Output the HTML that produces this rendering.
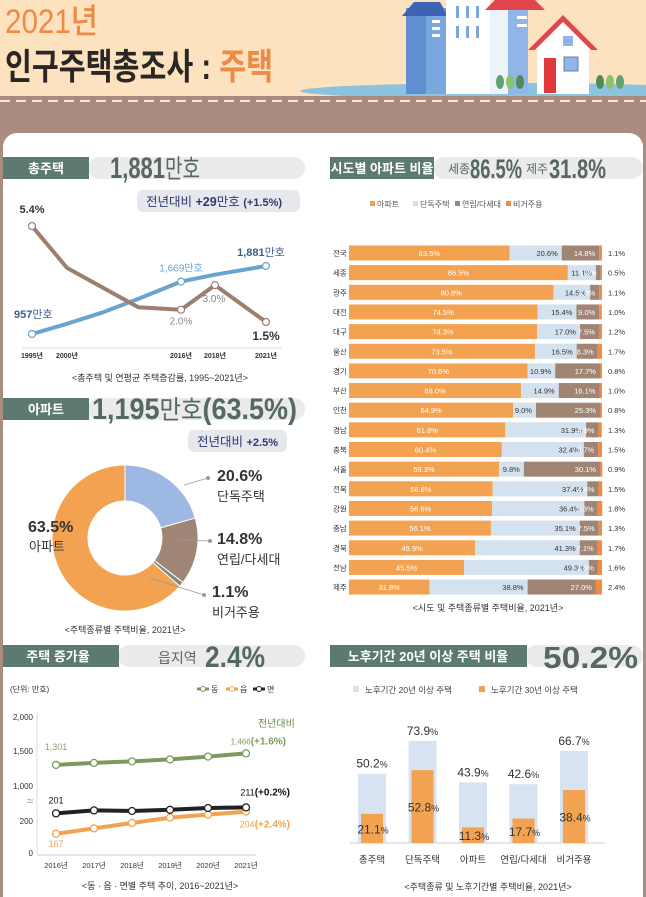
<!DOCTYPE html>
<html><head><meta charset="utf-8">
<style>
html,body{margin:0;padding:0;background:#a98c7e;}
svg{display:block;font-family:"Liberation Sans","Noto Sans CJK KR",sans-serif;}
.n{font-family:"Liberation Sans","Noto Sans CJK KR",sans-serif;}
</style></head>
<body>
<svg id="page" width="646" height="897" viewBox="0 0 646 897" xmlns="http://www.w3.org/2000/svg">
  <rect x="0" y="0" width="646" height="96" fill="#fde2bf"/>
  <text x="5" y="33" font-size="34" fill="#ee8a45" textLength="93" lengthAdjust="spacingAndGlyphs" font-weight="500">2021년</text>
  <text x="5" y="79" font-size="36" fill="#2a2624" font-weight="bold" textLength="268" lengthAdjust="spacingAndGlyphs">인구주택총조사 : <tspan fill="#ee8a45">주택</tspan></text>
  <g>
    <ellipse cx="510" cy="91" rx="210" ry="8" fill="#8cc4df"/>
    <rect x="406" y="8" width="40" height="86" fill="#7ba7df"/>
    <rect x="406" y="8" width="20" height="86" fill="#5f8fd0"/>
    <polygon points="402,16 414,2 440,2 448,16" fill="#3f63b3"/>
    <rect x="446" y="0" width="44" height="94" fill="#ffffff"/>
    <rect x="456" y="6" width="3" height="12" fill="#7ba7df"/><rect x="466" y="6" width="3" height="12" fill="#7ba7df"/><rect x="476" y="6" width="3" height="12" fill="#7ba7df"/>
    <rect x="456" y="26" width="3" height="12" fill="#7ba7df"/><rect x="466" y="26" width="3" height="12" fill="#7ba7df"/><rect x="476" y="26" width="3" height="12" fill="#7ba7df"/>
    <rect x="490" y="8" width="38" height="86" fill="#eef3fb"/>
    <rect x="508" y="8" width="20" height="86" fill="#8fb6e6"/>
    <polygon points="485,10 495,0 535,0 545,10" fill="#e0464b"/>
    <rect x="432" y="20" width="8" height="3" fill="#fff"/><rect x="432" y="27" width="8" height="3" fill="#fff"/><rect x="432" y="34" width="8" height="3" fill="#fff"/>
    <rect x="517" y="16" width="10" height="3" fill="#fff"/><rect x="517" y="24" width="10" height="3" fill="#fff"/>
    <rect x="537" y="45" width="52" height="49" fill="#ffffff"/>
    <polygon points="528,50 563,15 598,50 591,50 563,22 535,50" fill="#e0464b"/>
    <polygon points="535,50 563,22 591,50" fill="#ffffff"/>
    <rect x="544" y="58" width="12" height="35" fill="#e0393c"/>
    <rect x="563" y="36" width="10" height="10" fill="#8fb6e6"/>
    <rect x="564" y="57" width="14" height="14" fill="#8fb6e6" stroke="#6b7f95" stroke-width="1"/>
    <ellipse cx="500" cy="82" rx="4" ry="7" fill="#5fa46f"/><ellipse cx="510" cy="82" rx="4" ry="7" fill="#8fc06a"/><ellipse cx="520" cy="82" rx="4" ry="7" fill="#4e8a5e"/>
    <ellipse cx="600" cy="82" rx="4" ry="7" fill="#4e8a5e"/><ellipse cx="610" cy="82" rx="4" ry="7" fill="#8fc06a"/><ellipse cx="620" cy="82" rx="4" ry="7" fill="#5fa46f"/>
  </g>
  <rect x="0" y="96" width="646" height="40" fill="#a98c7e"/>
  <line x1="0" y1="101" x2="646" y2="101" stroke="#f3e6dc" stroke-width="2" stroke-dasharray="10,6"/>
  <rect x="3" y="133" width="640" height="780" rx="14" fill="#ffffff"/>

  <g>
    <rect x="88" y="157" width="217" height="22" rx="11" fill="#ebebeb"/>
    <rect x="3" y="157" width="86" height="22" fill="#5c7a6f"/>
    <text x="46" y="173" font-size="13" font-weight="bold" fill="#fff" text-anchor="middle">총주택</text>
    <text x="110" y="178" font-size="30" font-weight="bold" fill="#56695f" textLength="90" lengthAdjust="spacingAndGlyphs">1,881<tspan font-weight="normal" font-size="26">만호</tspan></text>
  </g>
  <g>
    <rect x="137" y="190" width="163" height="22" rx="6" fill="#e6e8ee"/>
    <text x="146" y="206" font-size="12.5" fill="#2e3a70">전년대비 <tspan font-weight="bold">+29</tspan>만호  <tspan font-weight="bold" font-size="11">(+1.5%)</tspan></text>
  </g>
  <g id="chart1"></g>
  <text x="160" y="381" font-size="9" fill="#333" text-anchor="middle">&lt;총주택 및 연평균 주택증감률, 1995~2021년&gt;</text>

  <g>
    <rect x="88" y="398" width="217" height="22" rx="11" fill="#ebebeb"/>
    <rect x="3" y="398" width="86" height="22" fill="#5c7a6f"/>
    <text x="46" y="414" font-size="13" font-weight="bold" fill="#fff" text-anchor="middle">아파트</text>
    <text x="92" y="419" font-size="30" font-weight="bold" fill="#56695f" textLength="205" lengthAdjust="spacingAndGlyphs">1,195<tspan font-weight="normal" font-size="26">만호</tspan>(63.5%)</text>
  </g>
  <g>
    <rect x="188" y="430" width="99" height="22" rx="6" fill="#e6e8ee"/>
    <text x="197" y="446" font-size="12.5" fill="#2e3a70">전년대비 <tspan font-weight="bold" font-size="11">+2.5%</tspan></text>
  </g>
  <g id="donut"></g>
  <text x="125" y="633" font-size="9" fill="#333" text-anchor="middle">&lt;주택종류별 주택비율, 2021년&gt;</text>

  <g>
    <rect x="118" y="645" width="187" height="22" rx="11" fill="#ebebeb"/>
    <rect x="3" y="645" width="116" height="22" fill="#5c7a6f"/>
    <text x="58" y="661" font-size="13" font-weight="bold" fill="#fff" text-anchor="middle">주택 증가율</text>
    <text x="158" y="663" font-size="14" fill="#56695f">읍지역</text>
    <text x="205" y="667" font-size="30" font-weight="bold" fill="#56695f" textLength="60" lengthAdjust="spacingAndGlyphs">2.4%</text>
  </g>
  <g id="chart3"></g>
  <text x="160" y="889" font-size="9" fill="#333" text-anchor="middle">&lt;동 · 읍 · 면별 주택 추이, 2016~2021년&gt;</text>

  <g>
    <rect x="433" y="157" width="210" height="22" rx="11" fill="#ebebeb"/>
    <rect x="330" y="157" width="104" height="22" fill="#5c7a6f"/>
    <text x="382" y="173" font-size="13" font-weight="bold" fill="#fff" text-anchor="middle">시도별 아파트 비율</text>
    <text x="448" y="173" font-size="12" fill="#56695f">세종</text>
    <text x="470" y="178" font-size="27" font-weight="bold" fill="#56695f" textLength="52" lengthAdjust="spacingAndGlyphs">86.5%</text>
    <text x="526" y="173" font-size="12" fill="#56695f">제주</text>
    <text x="549" y="178" font-size="27" font-weight="bold" fill="#56695f" textLength="57" lengthAdjust="spacingAndGlyphs">31.8%</text>
  </g>
  <g id="chart2"></g>
  <text x="488" y="611" font-size="9" fill="#333" text-anchor="middle">&lt;시도 및 주택종류별 주택비율, 2021년&gt;</text>

  <g>
    <rect x="525" y="645" width="118" height="22" rx="11" fill="#ebebeb"/>
    <rect x="330" y="645" width="197" height="22" fill="#5c7a6f"/>
    <text x="428" y="661" font-size="13" font-weight="bold" fill="#fff" text-anchor="middle">노후기간 20년 이상 주택 비율</text>
    <text x="543" y="668" font-size="31" font-weight="bold" fill="#56695f" textLength="95" lengthAdjust="spacingAndGlyphs">50.2%</text>
  </g>
  <g id="chart4"></g>
  <text x="488" y="890" font-size="9" fill="#333" text-anchor="middle">&lt;주택종류 및 노후기간별 주택비율, 2021년&gt;</text>
</svg>

<script>
const c1RateYears = [1995, 2000, 2010, 2016, 2018, 2021];
const c1RateValues = [5.4, 3.7, 2.1, 2.0, 3.0, 1.5];
const c1HouseYears = [1995, 2000, 2005, 2010, 2016, 2018, 2021];
const c1HouseValues = [957, 1096, 1250, 1434, 1669, 1763, 1881];
const c1TickYears = [1995, 2000, 2016, 2018, 2021];
const donutLabels = ["단독주택", "연립/다세대", "비거주용", "아파트"];
const donutValues = [20.6, 14.8, 1.1, 63.5];
const regions = ["전국","세종","광주","대전","대구","울산","경기","부산","인천","경남","충북","서울","전북","강원","충남","경북","전남","제주"];
const aptShare = [63.5,86.5,80.8,74.5,74.3,73.5,70.6,68.0,64.9,61.8,60.4,59.3,56.8,56.6,56.1,49.9,45.5,31.8];
const detachedShare = [20.6,11.1,14.5,15.4,17.0,16.5,10.9,14.9,9.0,31.9,32.4,9.8,37.4,36.4,35.1,41.3,49.3,38.8];
const rowhouseShare = [14.8,1.9,3.6,9.0,7.5,8.3,17.7,16.1,25.3,4.9,5.7,30.1,4.4,5.3,7.5,7.1,3.6,27.0];
const nonResShare = [1.1,0.5,1.1,1.0,1.2,1.7,0.8,1.0,0.8,1.3,1.5,0.9,1.5,1.8,1.3,1.7,1.6,2.4];
const c2Legend = ["아파트","단독주택","연립/다세대","비거주용"];
const c3Years = ["2016년","2017년","2018년","2019년","2020년","2021년"];
const dongValues = [1301, 1330, 1352, 1380, 1420, 1466];
const eupValues = [167, 176, 185, 194, 199, 204];
const myeonValues = [201, 206, 205, 207, 210, 211];
const c3Ticks = [0, 200, 1000, 1500, 2000];
const c3TickLabels = ["0","200","1,000","1,500","2,000"];
const c4Cats = ["총주택","단독주택","아파트","연립/다세대","비거주용"];
const over20 = [50.2, 73.9, 43.9, 42.6, 66.7];
const over30 = [21.1, 52.8, 11.3, 17.7, 38.4];

const NS = "http://www.w3.org/2000/svg";
function mk(tag, attrs, parent){const e=document.createElementNS(NS,tag);for(const k in attrs)e.setAttribute(k,attrs[k]);parent.appendChild(e);return e;}
function piece(dom, rng){return v=>{for(let i=0;i<dom.length-1;i++){if(v<=dom[i+1]||i===dom.length-2){const t=(v-dom[i])/(dom[i+1]-dom[i]);return rng[i]+t*(rng[i+1]-rng[i]);}}};}

(function(){
  const g=document.getElementById('chart1');
  const x=piece([1995,2000,2016,2021],[32,67,181,266]);
  const yR=v=>322-(v-1.5)*24.6;
  const yH=v=>334-(v-957)*0.0736;
  const ax=mk('line',{x1:22,y1:348,x2:282,y2:348,stroke:'#ddd','stroke-width':1},g);
  
  
  c1TickYears.forEach(yr=>{const t=mk('text',{x:x(yr),y:358,'font-size':7,'font-weight':'bold',fill:'#333','text-anchor':'middle'},g);t.textContent=yr+'년';
    
    });
  const hp=c1HouseYears.map((yr,i)=>x(yr)+','+yH(c1HouseValues[i])).join(' ');
  const hl=mk('polyline',{points:hp,fill:'none',stroke:'#6ba3cf','stroke-width':4,'stroke-linejoin':'round','stroke-linecap':'round'},g);
  
  
  const rp=c1RateYears.map((yr,i)=>x(yr)+','+yR(c1RateValues[i])).join(' ');
  const rl=mk('polyline',{points:rp,fill:'none',stroke:'#9c7f6e','stroke-width':4,'stroke-linejoin':'round','stroke-linecap':'round'},g);
  
  
  [0,4,6].forEach(i=>{const c=mk('circle',{cx:x(c1HouseYears[i]),cy:yH(c1HouseValues[i]),r:3.5,fill:'#fff',stroke:'#6ba3cf','stroke-width':1.2},g);
    
    });
  [0,3,4,5].forEach(i=>{const c=mk('circle',{cx:x(c1RateYears[i]),cy:yR(c1RateValues[i]),r:3.5,fill:'#fff',stroke:'#9c7f6e','stroke-width':1.2},g);
    
    });
  const lbl=(tx,ty,txt,col,sz,w,anc)=>{const t=mk('text',{x:tx,y:ty,'font-size':sz,fill:col,'font-weight':w,'text-anchor':anc||'middle'},g);t.innerHTML=txt;
    
    };
  lbl(x(1995),yR(c1RateValues[0])-13,c1RateValues[0]+'%','#333',11,'bold');
  lbl(x(2016),yR(c1RateValues[3])+15,c1RateValues[3].toFixed(1)+'%','#888',10,'normal');
  lbl(x(2018)-1,yR(c1RateValues[4])+17,c1RateValues[4].toFixed(1)+'%','#888',10,'normal');
  lbl(x(2021),yR(c1RateValues[5])+18,c1RateValues[5]+'%','#333',12,'bold');
  lbl(x(1995)-18,yH(c1HouseValues[0])-16,'<tspan font-weight="bold">'+c1HouseValues[0]+'</tspan>만호','#3b5f8e',11,'normal','start');
  lbl(x(2016),yH(c1HouseValues[4])-10,c1HouseValues[4].toLocaleString()+'만호','#6ba3cf',10,'normal');
  lbl(x(2021)-5,yH(c1HouseValues[6])-10,'<tspan font-weight="bold">'+c1HouseValues[6].toLocaleString()+'</tspan>만호','#3b5f8e',11,'normal');
})();

(function(){
  const g=document.getElementById('donut');
  const cx=125,cy=538,R=73,r=37;
  const cols=['#9db8e2','#a08574','#7f8a80','#f2a250'];
  const total=donutValues.reduce((a,b)=>a+b,0);
  let a0=-Math.PI/2;
  donutValues.forEach((v,i)=>{
    const a1=a0+v/total*2*Math.PI;
    const big=(a1-a0)>Math.PI?1:0;
    const p=`M${cx+R*Math.cos(a0)},${cy+R*Math.sin(a0)} A${R},${R} 0 ${big} 1 ${cx+R*Math.cos(a1)},${cy+R*Math.sin(a1)} L${cx+r*Math.cos(a1)},${cy+r*Math.sin(a1)} A${r},${r} 0 ${big} 0 ${cx+r*Math.cos(a0)},${cy+r*Math.sin(a0)} Z`;
    const s=mk('path',{d:p,fill:cols[i],stroke:'#fff','stroke-width':1},g);
    
    
    a0=a1;
  });
  const pos=[[217,474,184,485,208,478],[217,537,178,540,210,541],[212,590,150,578,204,595]];
  [0,1,2].forEach(i=>{
    const q=pos[i];
    const ln=mk('line',{x1:q[2],y1:q[3],x2:q[4],y2:q[5],stroke:'#999','stroke-width':0.8},g);
    
    
    const d=mk('circle',{cx:q[4],cy:q[5],r:2,fill:'#999'},g);
    
    
    const t=mk('text',{x:q[0],y:q[1]+7,'font-size':16,'font-weight':'bold',fill:'#333'},g);t.textContent=donutValues[i]+'%';
    
    
    const t2=mk('text',{x:q[0],y:q[1]+27,'font-size':13,fill:'#333'},g);t2.textContent=donutLabels[i];
    
    
  });
  const t=mk('text',{x:28,y:532,'font-size':16,'font-weight':'bold',fill:'#333'},g);t.textContent=donutValues[3]+'%';
  
  
  const t2=mk('text',{x:29,y:551,'font-size':13,fill:'#333'},g);t2.textContent=donutLabels[3];
  
  
})();

(function(){
  const g=document.getElementById('chart2');
  const x0=349, W=253;
  const xs=v=>v/100*W;
  const rowY=i=>253+i*19.65;
  const cols=['#f2a250','#d4e2f0','#a08574','#f08a45'];
  const txtCols=['#fff','#333','#fff','#333'];
  const lx=[370,413,455,506];
  c2Legend.forEach((n,i)=>{
    const r=mk('rect',{x:lx[i],y:201,width:5,height:5,fill:cols[i]},g);
    
    
    const t=mk('text',{x:lx[i]+7,y:207,'font-size':8,fill:'#555'},g);t.textContent=n;
    
    
  });
  regions.forEach((reg,i)=>{
    const yc=rowY(i);
    const t=mk('text',{x:333,y:yc+3,'font-size':7.5,fill:'#333'},g);t.textContent=reg;
    
    
    const vals=[aptShare[i],detachedShare[i],rowhouseShare[i],nonResShare[i]];
    let cx=x0;
    vals.forEach((v,k)=>{
      const w=xs(v);
      const b=mk('rect',{x:cx,y:yc-7.5,width:w,height:15,fill:cols[k]},g);
      
      
      if(k<3){const vt=mk('text',{x:k===0?cx+w/2:cx+w-4,y:yc+3,'font-size':7.5,fill:txtCols[k],'text-anchor':k===0?'middle':'end'},g);vt.textContent=v.toFixed(1)+'%';
        
        }
      cx+=w;
    });
    const nt=mk('text',{x:608,y:yc+3,'font-size':7.5,fill:'#333'},g);nt.textContent=nonResShare[i].toFixed(1)+'%';
    
    
  });
})();

(function(){
  const g=document.getElementById('chart3');
  const x=i=>56+i*38;
  const y=piece([0,150,220,1000,1500,2000],[853,844,802,786,751,717]);
  const yt=piece([0,200,1000,1500,2000],[853,821,786,751,717]);
  const u=mk('text',{x:10,y:692,'font-size':8,fill:'#333'},g);u.textContent='(단위: 만호)';
  
  
  const ax=mk('line',{x1:37,y1:855,x2:256,y2:855,stroke:'#ccc','stroke-width':1},g);
  
  
  const ay=mk('line',{x1:37,y1:712,x2:37,y2:855,stroke:'#ddd','stroke-width':1},g);
  
  
  c3Ticks.forEach((v,i)=>{const t=mk('text',{x:33,y:yt(v)+3,'font-size':8,fill:'#333','text-anchor':'end'},g);t.textContent=c3TickLabels[i];
    
    });
  const br=mk('text',{x:30,y:805,'font-size':12,fill:'#999','text-anchor':'middle'},g);br.textContent='≈';
  
  
  c3Years.forEach((yr,i)=>{const t=mk('text',{x:x(i),y:868,'font-size':7.5,fill:'#333','text-anchor':'middle'},g);t.textContent=yr;
    
    });
  const series=[[dongValues,'#7c9a5f','dong'],[eupValues,'#f2a250','eup'],[myeonValues,'#222','myeon']];
  series.forEach(s=>{
    const pl=mk('polyline',{points:s[0].map((v,i)=>x(i)+','+y(v)).join(' '),fill:'none',stroke:s[1],'stroke-width':4},g);
    
    
    s[0].forEach((v,i)=>{const c=mk('circle',{cx:x(i),cy:y(v),r:3.5,fill:'#fff',stroke:s[1],'stroke-width':1.3},g);
      
      });
  });
  const legX=[197,226,253],legN=['동','읍','면'];
  series.forEach((s,i)=>{
    const l=mk('line',{x1:legX[i],y1:689,x2:legX[i]+12,y2:689,stroke:s[1],'stroke-width':3},g);
    
    
    const c=mk('circle',{cx:legX[i]+6,cy:689,r:2.5,fill:'#fff',stroke:s[1]},g);
    
    
    const t=mk('text',{x:legX[i]+14,y:692,'font-size':8,fill:'#333'},g);t.textContent=legN[i];
    
    
  });
  const L=(tx,ty,html,col,sz,anc)=>{const t=mk('text',{x:tx,y:ty,'font-size':sz,fill:col,'text-anchor':anc||'start'},g);t.innerHTML=html;
    
    };
  const last=c3Years.length-1;
  L(258,727,'전년대비','#6c8a50',10);
  L(x(last)+40,y(dongValues[last])-9,dongValues[last].toLocaleString()+'<tspan font-weight="bold" font-size="10">(+1.6%)</tspan>','#7c9a5f',8,'end');
  L(x(last)+44,y(myeonValues[last])-12,myeonValues[last]+'<tspan font-weight="bold" font-size="10">(+0.2%)</tspan>','#111',9,'end');
  L(x(last)+44,y(eupValues[last])+16,eupValues[last]+'<tspan font-weight="bold" font-size="10">(+2.4%)</tspan>','#f2a250',9,'end');
  L(x(0),y(dongValues[0])-15,dongValues[0].toLocaleString(),'#8aa06f',9,'middle');
  L(x(0),y(myeonValues[0])-10,myeonValues[0],'#111',9,'middle');
  L(x(0),y(eupValues[0])+13,eupValues[0],'#f2a250',9,'middle');
})();

(function(){
  const g=document.getElementById('chart4');
  const base=843, k=1.38;
  const x=i=>372+i*50.5;
  const h=v=>v*k;
  const lg=[[353,'#d7e3f0','노후기간 20년 이상 주택'],[479,'#f2a250','노후기간 30년 이상 주택']];
  lg.forEach(l=>{const r=mk('rect',{x:l[0],y:686,width:6,height:6,fill:l[1]},g);
    
    
    const t=mk('text',{x:l[0]+12,y:693,'font-size':8.5,fill:'#444'},g);t.textContent=l[2];
    
    });
  const ax=mk('line',{x1:350,y1:base,x2:605,y2:base,stroke:'#ccc','stroke-width':1},g);
  
  
  c4Cats.forEach((c,i)=>{
    const b=mk('rect',{x:x(i)-14,y:base-h(over20[i]),width:28,height:h(over20[i]),fill:'#d7e3f0'},g);
    
    
    const f=mk('rect',{x:x(i)-11,y:base-h(over30[i]),width:22,height:h(over30[i]),fill:'#f2a250'},g);
    
    
    const t=mk('text',{x:x(i),y:base-h(over20[i])-6,'font-size':12,fill:'#333','text-anchor':'middle'},g);t.innerHTML=over20[i].toFixed(1)+'<tspan font-size="9">%</tspan>';
    
    
    const t2=mk('text',{x:x(i)+1,y:base-h(over30[i])/2+5,'font-size':12,fill:'#333','text-anchor':'middle'},g);t2.innerHTML=over30[i].toFixed(1)+'<tspan font-size="9">%</tspan>';
    
    
    const t3=mk('text',{x:x(i),y:863,'font-size':9.5,fill:'#333','text-anchor':'middle'},g);t3.textContent=c;
    
    
  });
})();
</script>
</body></html>
